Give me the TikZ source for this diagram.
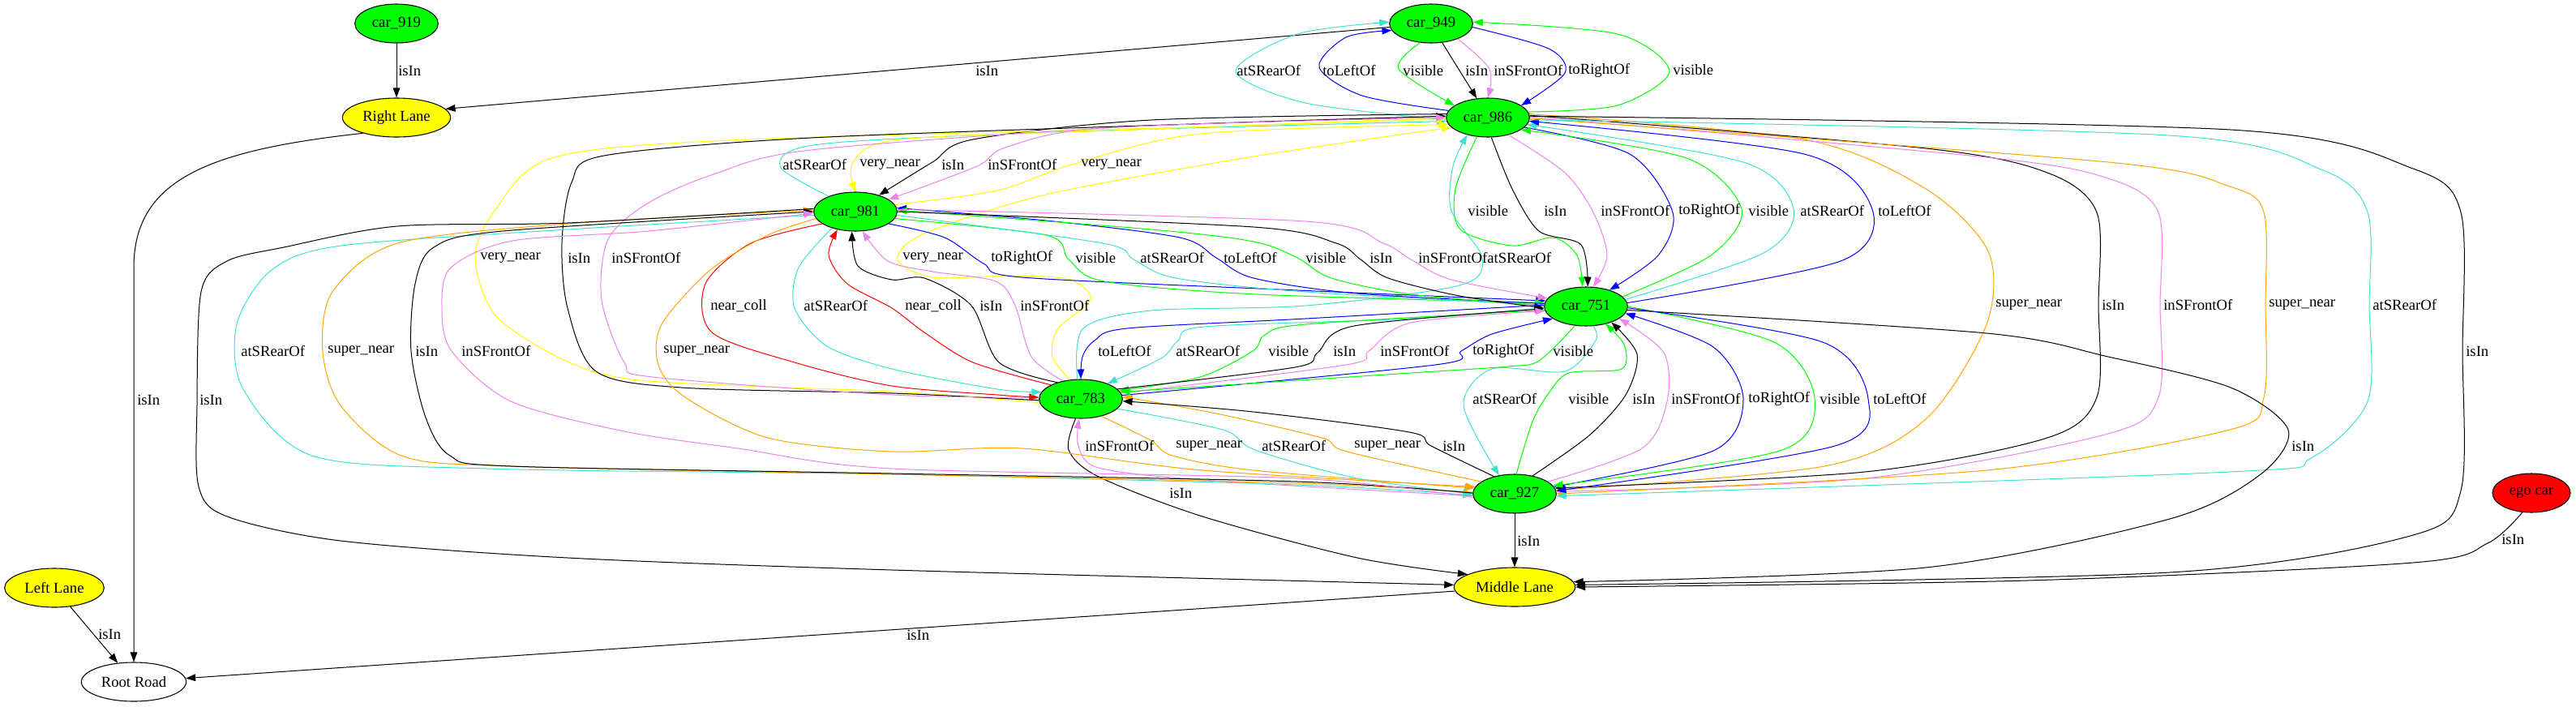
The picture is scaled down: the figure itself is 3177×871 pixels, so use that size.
\documentclass[tikz,border=0pt]{standalone}
\usepackage{fontspec}
\setmainfont{Liberation Serif}
\usetikzlibrary{shapes.geometric,arrows.meta}
\definecolor{tq}{RGB}{64,224,208}
\definecolor{vio}{RGB}{238,130,238}
\definecolor{org}{RGB}{255,165,0}
\definecolor{grn}{RGB}{0,255,0}
\definecolor{blu}{RGB}{0,0,255}
\definecolor{yel}{RGB}{255,255,0}
\definecolor{rd}{RGB}{255,0,0}
\tikzset{
	obj/.style={ellipse, draw, line width=0.8pt, inner sep=0pt, minimum height=36pt, font=\fontsize{14}{16}\selectfont},
	car/.style={obj, fill=grn, minimum width=77pt},
	lane/.style={obj, fill=yel, minimum width=#1},
	rel/.style={line width=0.75pt, -{Triangle[length=9pt,width=6.5pt]}},
	lbl/.style={anchor=west, inner sep=0pt, font=\fontsize{14}{16}\selectfont}
}
\begin{document}
\begin{tikzpicture}[x=0.75pt, y=-0.75pt]
			\useasboundingbox (0,0) rectangle (3177,871);
			\node[car] (c919) at (489,29) {car\_919};
			\node[lane=100pt] (rl) at (489,145) {Right Lane};
			\node[car] (c949) at (1765,29) {car\_949};
			\node[car] (c986) at (1835,145) {car\_986};
			\node[car] (c981) at (1055,261) {car\_981};
			\node[car] (c751) at (1956,378) {car\_751};
			\node[car] (c783) at (1333,492) {car\_783};
			\node[car] (c927) at (1868,609) {car\_927};
			\node[obj, fill=rd, minimum width=72pt] (ego) at (3122,608) {ego car};
			\node[lane=92pt] (ll) at (67,725) {Left Lane};
			\node[lane=112pt] (ml) at (1868,724) {Middle Lane};
			\node[obj, fill=white, minimum width=97pt] (rr) at (165,841) {Root Road};

			\draw[rel] (c919) -- (rl);
			\draw[rel] (c949.185) -- (rl.10);
			\draw[rel, tq] plot[smooth] coordinates {(c986.183) (1610,127) (1524,88) (1600,42) (c949.178)};
			\draw[rel, blu] plot[smooth] coordinates {(c986.170) (1680,118) (1627,83) (1660,46) (c949.190)};
			\draw[rel, grn] plot[smooth] coordinates {(c949.240) (1725,85) (c986.160)};
			\draw[rel] (c949.300) -- (c986.120);
			\draw[rel, vio] plot[smooth] coordinates {(c949.330) (1837,85) (c986.90)};
			\draw[rel, blu] plot[smooth] coordinates {(c949.355) (1910,60) (1930,90) (c986.20)};
			\draw[rel, grn] plot[smooth] coordinates {(c986.8) (1995,130) (2059,88) (1995,42) (c949.2)};
			\node[lbl] (l01) at (491,87) {isIn};
			\node[lbl] (l02) at (1203,87) {isIn};
			\node[lbl] (l03) at (1525,87) {atSRearOf};
			\node[lbl] (l04) at (1631,87) {toLeftOf};
			\node[lbl] (l05) at (1730,87) {visible};
			\node[lbl] (l06) at (1807,87) {isIn};
			\node[lbl] (l07) at (1842,87) {inSFrontOf};
			\node[lbl] (l08) at (1934,87) {toRightOf};
			\node[lbl] (l09) at (2063,86) {visible};

			\draw[rel, tq] plot[smooth] coordinates {(c981.150) (962,205) (1010,178) (1300,163) (c986.185)};
			\draw[rel, yel] plot[smooth] coordinates {(c986.180) (1400,160) (1110,172) (1052,200) (c981.north)};
			\draw[rel] plot[smooth] coordinates {(c986.175) (1420,148) (1200,172) (1150,200) (c981.35)};
			\draw[rel, vio] plot[smooth] coordinates {(c986.178) (1360,158) (1240,182) (1205,205) (c981.20)};
			\draw[rel, yel] plot[smooth] coordinates {(c981.10) (1230,235) (1322,203) (1480,165) (c986.190)};
			\node[lbl] (l10) at (965,203) {atSRearOf};
			\node[lbl] (l11) at (1060,203) {very\_near};
			\node[lbl] (l12) at (1161,203) {isIn};
			\node[lbl] (l13) at (1218,203) {inSFrontOf};
			\node[lbl] (l14) at (1333,203) {very\_near};

			\draw[rel, yel] plot[smooth] coordinates {(c783.185) (1100,483) (800,470) (702,447) (612,390) (586,318) (610,260) (680,195) (900,173) (1500,156) (c986.182)};
			\draw[rel] plot[smooth] coordinates {(c783.182) (1100,485) (840,478) (735,458) (700,380) (693,300) (705,225) (745,192) (1000,170) (1500,152) (c986.178)};
			\draw[rel, vio] plot[smooth] coordinates {(c783.178) (1100,487) (805,465) (770,447) (742,370) (750,295) (800,250) (880,215) (1000,185) (1400,156) (c986.180)};
			\draw[rel, yel] plot[smooth] coordinates {(c783.120) (1298,440) (1305,405) (1345,370) (1320,345) (1250,340) (1150,342) (1107,320) (1140,288) (1290,240) (1546,193) (c986.195)};
			\draw[rel, tq] plot[smooth] coordinates {(c783.100) (1336,405) (1420,383) (1610,377) (1800,352) (1828,318) (1790,260) (1792,205) (c986.220)};
			\node[lbl] (l15) at (592,318) {very\_near};
			\node[lbl] (l16) at (700,318) {isIn};
			\node[lbl] (l17) at (754,318) {inSFrontOf};
			\node[lbl] (l18) at (1113,318) {very\_near};
			\node[lbl] (l19) at (1834,318) {atSRearOf};

			\draw[rel, rd] plot[smooth] coordinates {(c981.200) (926,300) (870,350) (878,410) (980,447) (1100,476) (1230,487) (c783.178)};
			\draw[rel, rd] plot[smooth] coordinates {(c783.155) (1200,447) (1140,410) (1100,380) (1045,350) (1022,315) (c981.225)};
			\draw[rel, tq] plot[smooth] coordinates {(c981.215) (985,330) (980,380) (1020,427) (1100,455) (1230,480) (c783.170)};
			\draw[rel] plot[smooth] coordinates {(c783.145) (1232,447) (1198,377) (1140,343) (1100,345) (1058,328) (c981.260)};
			\draw[rel, vio] plot[smooth] coordinates {(c783.135) (1272,440) (1252,377) (1228,347) (1150,335) (1095,322) (c981.290)};
			\node[lbl] (l20) at (876,377) {near\_coll};
			\node[lbl] (l21) at (991,377) {atSRearOf};
			\node[lbl] (l22) at (1116,377) {near\_coll};
			\node[lbl] (l23) at (1208,377) {isIn};
			\node[lbl] (l24) at (1258,377) {inSFrontOf};

			\draw[rel, blu] plot[smooth] coordinates {(c981.340) (1165,293) (1213,325) (1260,342) (1600,358) (c751.172)};
			\draw[rel, grn] plot[smooth] coordinates {(c981.350) (1290,290) (1318,320) (1362,347) (1550,363) (c751.175)};
			\draw[rel, tq] plot[smooth] coordinates {(c981.355) (1360,300) (1398,320) (1450,343) (1610,360) (c751.178)};
			\draw[rel, blu] plot[smooth] coordinates {(c751.176) (1674,362) (1546,343) (1500,318) (1455,293) (1290,272) (c981.5)};
			\draw[rel, grn] plot[smooth] coordinates {(c751.179) (1740,363) (1642,343) (1600,318) (1546,298) (1420,283) (c981.2)};
			\draw[rel] plot[smooth] coordinates {(c981.0) (1546,280) (1648,300) (1678,320) (1712,343) (1800,365) (c751.182)};
			\draw[rel, vio] plot[smooth] coordinates {(c981.3) (1610,273) (1706,300) (1740,320) (1790,345) (c751.168)};
			\node[lbl] (l25) at (1222,318) {toRightOf};
			\node[lbl] (l26) at (1326,318) {visible};
			\node[lbl] (l27) at (1406,318) {atSRearOf};
			\node[lbl] (l28) at (1509,318) {toLeftOf};
			\node[lbl] (l29) at (1610,318) {visible};
			\node[lbl] (l30) at (1689,318) {isIn};
			\node[lbl] (l31) at (1749,318) {inSFrontOf};

			\draw[rel, grn] plot[smooth] coordinates {(c986.240) (1795,233) (1801,283) (1865,303) (1916,293) (1945,315) (c751.100)};
			\draw[rel] plot[smooth] coordinates {(c986.280) (1865,233) (1898,285) (1950,302) (c751.85)};
			\draw[rel, vio] plot[smooth] coordinates {(c986.320) (1930,213) (1965,262) (1982,315) (c751.70)};
			\draw[rel, blu] plot[smooth] coordinates {(c986.345) (2010,190) (2063,262) (2045,315) (c751.35)};
			\draw[rel, grn] plot[smooth] coordinates {(c751.15) (2110,315) (2148,258) (2080,195) (c986.340)};
			\draw[rel, tq] plot[smooth] coordinates {(c751.10) (2175,312) (2212,258) (2150,200) (c986.350)};
			\draw[rel, blu] plot[smooth] coordinates {(c751.5) (2270,322) (2309,258) (2225,190) (c986.355)};
			\node[lbl] (l32) at (1810,260) {visible};
			\node[lbl] (l33) at (1904,260) {isIn};
			\node[lbl] (l34) at (1974,260) {inSFrontOf};
			\node[lbl] (l35) at (2070,260) {toRightOf};
			\node[lbl] (l36) at (2156,260) {visible};
			\node[lbl] (l37) at (2220,260) {atSRearOf};
			\node[lbl] (l38) at (2316,260) {toLeftOf};

			\draw[rel, org] plot[smooth] coordinates {(c986.5) (2225,172) (2375,233) (2452,310) (2450,400) (2375,517) (2250,575) (c927.5)};
			\draw[rel] plot[smooth] coordinates {(c986.3) (2375,183) (2525,213) (2586,262) (2588,376) (2586,490) (2525,540) (2300,582) (c927.8)};
			\draw[rel, vio] plot[smooth] coordinates {(c986.1) (2450,194) (2600,220) (2662,262) (2664,376) (2662,490) (2600,535) (2300,590) (c927.3)};
			\draw[rel, org] plot[smooth] coordinates {(c986.359) (2600,200) (2750,230) (2792,262) (2794,376) (2792,490) (2750,530) (2450,580) (c927.0)};
			\draw[rel, tq] plot[smooth] coordinates {(c986.357) (2675,167) (2865,210) (2920,262) (2922,376) (2920,495) (2850,565) (2750,582) (c927.357)};
			\draw[rel] plot[smooth] coordinates {(c986.2) (2751,160) (2976,208) (3035,262) (3037,433) (3035,605) (2976,660) (2676,706) (ml.2)};
			\draw[rel] plot[smooth] coordinates {(c751.355) (2450,411) (2600,440) (2751,478) (2822,530) (2788,585) (2676,640) (2375,700) (ml.5)};
			\draw[rel] plot[smooth] coordinates {(ego.245) (3068,670) (2976,694) (2500,716) (ml.0)};
			\node[lbl] (l39) at (2461,376) {super\_near};
			\node[lbl] (l40) at (2592,376) {isIn};
			\node[lbl] (l41) at (2668,376) {inSFrontOf};
			\node[lbl] (l42) at (2798,376) {super\_near};
			\node[lbl] (l43) at (2926,376) {atSRearOf};
			\node[lbl] (l44) at (3041,433) {isIn};
			\node[lbl] (l45) at (2826,550) {isIn};
			\node[lbl] (l46) at (3085,665) {isIn};

			\draw[rel, tq] plot[smooth] coordinates {(c751.290) (1968,420) (1930,458) (1840,455) (1805,500) (c927.130)};
			\draw[rel, grn] plot[smooth] coordinates {(c927.85) (1890,520) (1910,485) (1935,460) (2000,455) (2003,425) (c751.318)};
			\draw[rel] plot[smooth] coordinates {(c927.45) (1960,537) (2005,487) (2019,437) (c751.328)};
			\draw[rel, vio] plot[smooth] coordinates {(c927.20) (2025,553) (2056,495) (2052,435) (c751.340)};
			\draw[rel, blu] plot[smooth] coordinates {(c927.10) (2113,556) (2150,492) (2113,428) (c751.350)};
			\draw[rel, grn] plot[smooth] coordinates {(c751.0) (2188,422) (2238,492) (2195,556) (c927.12)};
			\draw[rel, blu] plot[smooth] coordinates {(c751.358) (2248,422) (2304,492) (2263,550) (c927.4)};
			\node[lbl] (l47) at (1816,492) {atSRearOf};
			\node[lbl] (l48) at (1934,492) {visible};
			\node[lbl] (l49) at (2013,492) {isIn};
			\node[lbl] (l50) at (2061,492) {inSFrontOf};
			\node[lbl] (l51) at (2156,492) {toRightOf};
			\node[lbl] (l52) at (2244,492) {visible};
			\node[lbl] (l53) at (2310,492) {toLeftOf};

			\draw[rel, blu] plot[smooth] coordinates {(c751.178) (1610,393) (1390,405) (1350,420) (1335,440) (c783.90)};
			\draw[rel, tq] plot[smooth] coordinates {(c751.182) (1740,393) (1485,403) (1453,420) (1432,442) (c783.30)};
			\draw[rel, grn] plot[smooth] coordinates {(c751.185) (1610,400) (1560,413) (1545,433) (1480,465) (c783.12)};
			\draw[rel] plot[smooth] coordinates {(c783.15) (1597,453) (1625,435) (1670,402) (c751.183)};
			\draw[rel, vio] plot[smooth] coordinates {(c783.8) (1660,450) (1688,433) (1740,398) (c751.186)};
			\draw[rel, blu] plot[smooth] coordinates {(c783.5) (1770,450) (1802,433) (1840,412) (c751.200)};
			\draw[rel, grn] plot[smooth] coordinates {(c751.240) (1898,445) (1860,452) (1740,460) (c783.10)};
			\node[lbl] (l54) at (1354,433) {toLeftOf};
			\node[lbl] (l55) at (1450,433) {atSRearOf};
			\node[lbl] (l56) at (1564,433) {visible};
			\node[lbl] (l57) at (1644,433) {isIn};
			\node[lbl] (l58) at (1702,433) {inSFrontOf};
			\node[lbl] (l59) at (1816,433) {toRightOf};
			\node[lbl] (l60) at (1915,433) {visible};

			\draw[rel, vio] plot[smooth] coordinates {(c927.183) (1483,592) (1355,577) (1330,550) (c783.265)};
			\draw[rel, org] plot[smooth] coordinates {(c783.320) (1419,543) (1446,562) (1546,580) (c927.172)};
			\draw[rel, tq] plot[smooth] coordinates {(c783.345) (1508,530) (1548,555) (1674,590) (c927.180)};
			\draw[rel, org] plot[smooth] coordinates {(c927.160) (1661,557) (1630,540) (1500,510) (c783.3)};
			\draw[rel] plot[smooth] coordinates {(c927.140) (1765,550) (1738,533) (1546,508) (c783.357)};
			\draw[rel] plot[smooth] coordinates {(c783.255) (1318,555) (1355,588) (1483,637) (1674,688) (ml.165)};
			\draw[rel] (c927) -- (ml);
			\node[lbl] (l61) at (1338,550) {inSFrontOf};
			\node[lbl] (l62) at (1450,550) {super\_near};
			\node[lbl] (l63) at (1556,550) {atSRearOf};
			\node[lbl] (l64) at (1670,550) {super\_near};
			\node[lbl] (l65) at (1779,550) {isIn};
			\node[lbl] (l66) at (1442,608) {isIn};
			\node[lbl] (l67) at (1871,667) {isIn};

			\draw[rel, tq] plot[smooth] coordinates {(c981.185) (700,283) (421,303) (335,333) (292,400) (300,480) (385,562) (600,578) (1100,585) (1600,598) (c927.182)};
			\draw[rel, org] plot[smooth] coordinates {(c927.178) (1600,596) (1100,585) (630,575) (495,562) (420,500) (398,433) (410,360) (490,300) (700,276) (c981.178)};
			\draw[rel] plot[smooth] coordinates {(c927.179) (1600,594) (1100,584) (630,575) (555,562) (525,515) (507,433) (512,350) (535,305) (620,285) (c981.180)};
			\draw[rel, vio] plot[smooth] coordinates {(c927.185) (1600,590) (1100,578) (910,553) (770,532) (630,495) (557,433) (545,380) (556,330) (632,297) (800,285) (c981.182)};
			\draw[rel] plot[smooth] coordinates {(c981.176) (700,275) (490,279) (350,305) (280,322) (248,360) (243,500) (245,600) (280,637) (420,667) (700,688) (1100,703) (ml.178)};
			\draw[rel, org] plot[smooth] coordinates {(c981.190) (947,290) (876,333) (816,400) (812,450) (845,490) (947,540) (1100,557) (1260,553) (1483,580) (c927.170)};
			\node[lbl] (l68) at (297,433) {atSRearOf};
			\node[lbl] (l69) at (404,433) {super\_near};
			\node[lbl] (l70) at (512,433) {isIn};
			\node[lbl] (l71) at (569,433) {inSFrontOf};
			\node[lbl] (l72) at (818,433) {super\_near};
			\node[lbl] (l73) at (246,493) {isIn};

			\draw[rel] (rl.205) .. controls (260,185) and (165,220) .. (165,330) -- (rr.north);
			\draw[rel] (ll) -- (rr);
			\draw[rel] (ml) -- (rr);
			\node[lbl] (l74) at (169,493) {isIn};
			\node[lbl] (l75) at (121,782) {isIn};
			\node[lbl] (l76) at (1118,783) {isIn};
\end{tikzpicture}
\end{document}
